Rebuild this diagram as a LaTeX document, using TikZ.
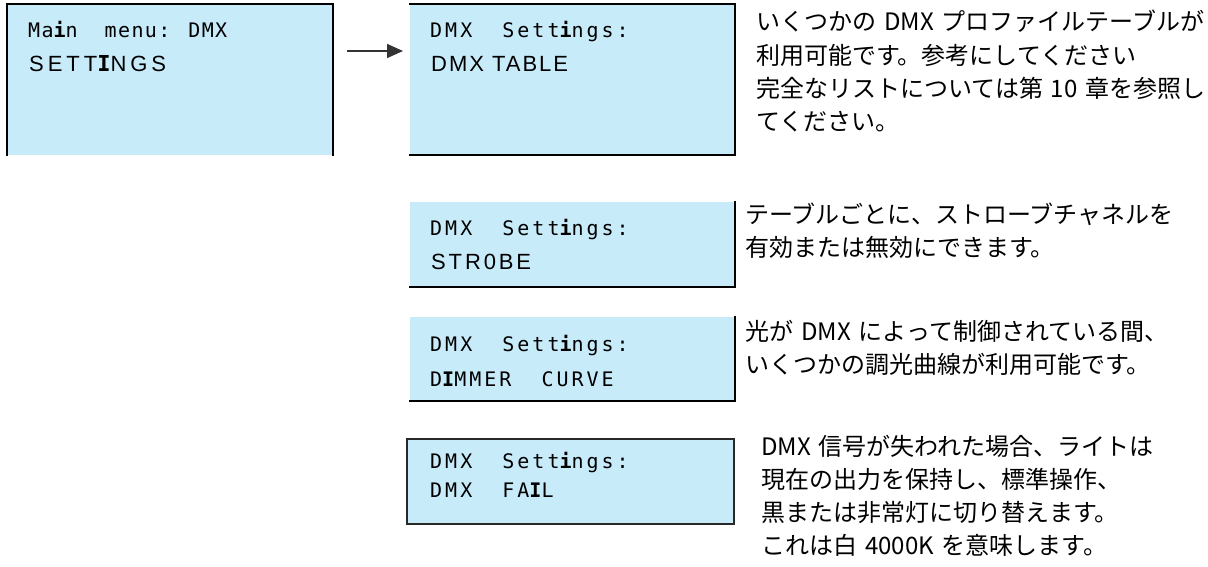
\documentclass[tikz,border=0pt]{standalone}
\usepackage{fontspec}
\usetikzlibrary{arrows.meta}
\newfontfamily\lcdmono{DejaVu Sans Mono}[LetterSpace=15]
\newfontfamily\lcdsans{Liberation Sans}[LetterSpace=12]
\newfontfamily\jpfont{Noto Sans CJK JP}
\definecolor{lcdblue}{RGB}{200,235,250}
\definecolor{arrowgray}{RGB}{51,51,51}
\definecolor{framegray}{RGB}{40,40,40}
\tikzset{
  panel/.style={fill=lcdblue, draw=none, inner sep=0pt, outer sep=0pt, anchor=north west},
  rim/.style={line width=2.2pt, draw=black, line cap=rect},
  thinrim/.style={line width=1.3pt, draw=framegray},
  lineone/.style={anchor=base west, inner sep=0pt, font=\lcdmono\fontsize{20}{20}\selectfont},
  linetwo/.style={anchor=base west, inner sep=0pt, font=\lcdsans\fontsize{22}{22}\selectfont},
  note/.style={anchor=base west, inner sep=0pt, align=left, text width=470pt,
               font=\jpfont\fontsize{24}{33.3}\selectfont},
  arr/.style={draw=arrowgray, line width=1.5pt, -{Triangle[length=16pt,width=14pt]}}
}
\newcommand{\bi}{{\lcdmono\bfseries i}}
\newcommand{\bI}{{\lcdmono\bfseries I}}
\begin{document}
\begin{tikzpicture}[x=1pt,y=-1pt]
\useasboundingbox (0,0) rectangle (1208,567);

% panels
\node[panel, minimum width=326pt, minimum height=151pt] (b1) at (7,4) {};
\node[panel, minimum width=325pt, minimum height=151pt] (b2) at (410,4) {};
\node[panel, minimum width=325pt, minimum height=85pt] (b3) at (410,202) {};
\node[panel, minimum width=325pt, minimum height=84pt] (b4) at (410,317) {};
\node[panel, minimum width=327pt, minimum height=85pt] (b5) at (407,439) {};

% frames
\draw[rim] (b1.south west) -- (b1.north west) -- (b1.north east) -- (b1.south east);
\draw[rim] (b2.north west) -- (b2.north east) -- (b2.south east) -- (b2.south west);
\draw[rim] (b3.north east) -- (b3.south east) -- (b3.south west);
\draw[rim] (b4.north east) -- (b4.south east) -- (b4.south west);
\draw[thinrim] (b5.north west) rectangle (b5.south east);

% panel texts
\node[lineone, font=\lcdmono\addfontfeature{LetterSpace=7}\fontsize{20}{20}\selectfont] (t1a) at (28,38) {Ma\bi n\ \ menu: DMX};
\node[linetwo, font=\lcdsans\addfontfeature{LetterSpace=18}\fontsize{22}{22}\selectfont] (t1b) at (29,72) {SETT\bI NGS};

\node[lineone] (t2a) at (430,38) {DMX\ \ Sett\bi ngs:};
\node[linetwo, font=\lcdsans\addfontfeature{LetterSpace=9}\fontsize{22}{22}\selectfont] (t2b) at (431,72) {DMX TABLE};

\node[lineone] (t3a) at (430,235) {DMX\ \ Sett\bi ngs:};
\node[linetwo, font=\lcdsans\addfontfeature{LetterSpace=13}\fontsize{22}{22}\selectfont] (t3b) at (431,269) {STR0BE};

\node[lineone] (t4a) at (430,351) {DMX\ \ Sett\bi ngs:};
\node[lineone] (t4b) at (430,386) {D\bI MMER\ \ CURVE};

\node[lineone] (t5a) at (430,468) {DMX\ \ Sett\bi ngs:};
\node[lineone] (t5b) at (430,497) {DMX\ \ FA\bI L};

% arrow
\coordinate (ay) at (0,51);
\draw[arr, shorten <=14pt, shorten >=7pt] (b1.north east |- ay) -- (b2.north west |- ay);

% notes
\node[note] (n1) at (756,31) {いくつかの DMX プロファイルテーブルが\\利用可能です。参考にしてください\\完全なリストについては第 10 章を参照し\\てください。};
\node[note] (n2) at (745,223) {テーブルごとに、ストローブチャネルを\\有効または無効にできます。};
\node[note] (n3) at (745,340) {光が DMX によって制御されている間、\\いくつかの調光曲線が利用可能です。};
\node[note] (n4) at (761,455) {DMX 信号が失われた場合、ライトは\\現在の出力を保持し、標準操作、\\黒または非常灯に切り替えます。\\これは白 4000K を意味します。};
\end{tikzpicture}
\end{document}
